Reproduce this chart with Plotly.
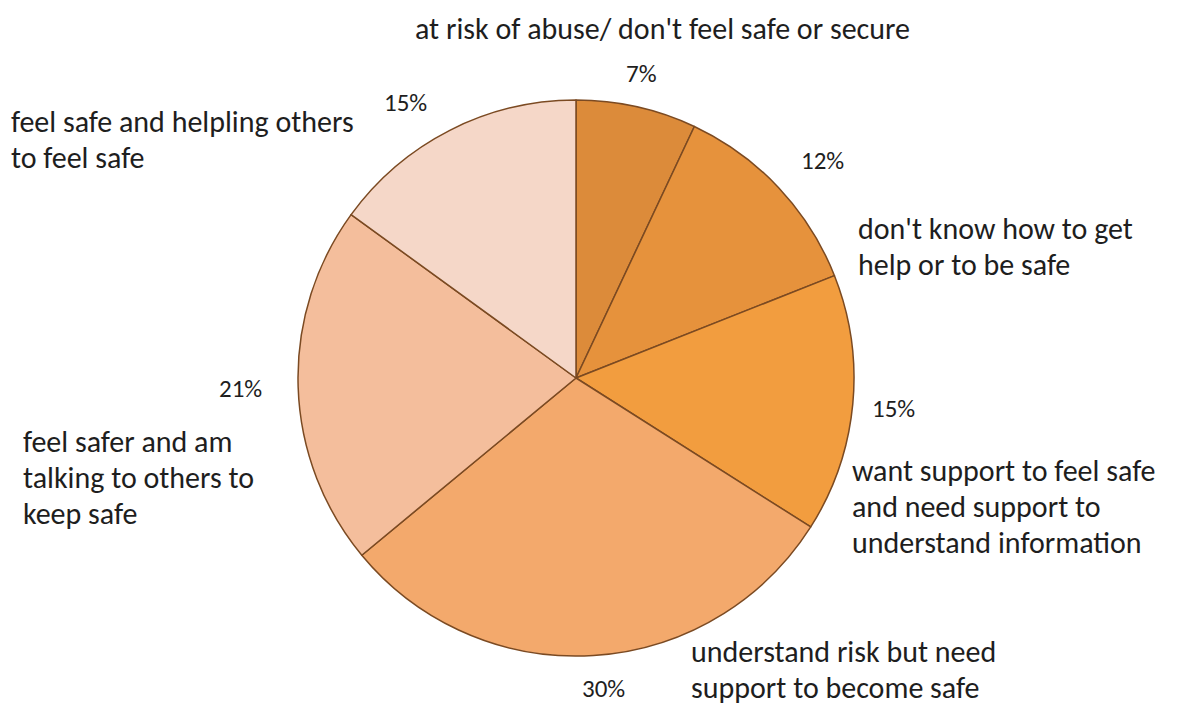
import plotly.graph_objects as go

W, H = 1178, 705

# Slices in clockwise order, starting at 12 o'clock
categories = [
    "at risk of abuse/ don't feel safe or secure",
    "don't know how to get help or to be safe",
    "want support to feel safe and need support to understand information",
    "understand risk but need support to become safe",
    "feel safer and am talking to others to keep safe",
    "feel safe and helpling others to feel safe",
]
shares = [7, 12, 15, 30, 21, 15]
colors = ["#DC8B3A", "#E6923C", "#F29D3F", "#F3A96C", "#F4BE9C", "#F5D7C8"]

# Category text broken into lines, with line-block anchor (px) and alignment
label_lines = [
    ["at risk of abuse/ don't feel safe or secure"],
    ["don't know how to get", "help or to be safe"],
    ["want support to feel safe", "and need support to", "understand information"],
    ["understand risk but need", "support to become safe"],
    ["feel safer and am", "talking to others to", "keep safe"],
    ["feel safe and helpling others", "to feel safe"],
]
label_anchor = [(662, 28, "center"), (856, 228, "left"), (850, 470, "left"),
                (689, 651, "left"), (21, 441, "left"), (9, 121, "left")]
pct_anchor = [(641, 73), (822, 160), (893, 409), (603, 688), (241, 388), (405, 103)]

LINE_GAP = 36
FONT = "Carlito, Lato, 'Liberation Sans', sans-serif"

cx, cy, r = 576, 378, 278

fig = go.Figure(go.Pie(
    values=shares,
    labels=categories,
    sort=False,
    direction="clockwise",
    rotation=0,
    marker=dict(colors=colors, line=dict(color="#7B4A22", width=1.5)),
    textinfo="none",
    hoverinfo="label+percent",
    showlegend=False,
    domain=dict(x=[(cx - r) / W, (cx + r) / W], y=[1 - (cy + r) / H, 1 - (cy - r) / H]),
))


def px(x, y):
    return x / W, 1 - y / H


annotations = []
for lines, (x0, y0, al) in zip(label_lines, label_anchor):
    for i, line in enumerate(lines):
        ax, ay = px(x0, y0 + i * LINE_GAP)
        annotations.append(dict(
            x=ax, y=ay, xref="paper", yref="paper", text=line, showarrow=False,
            xanchor="center" if al == "center" else "left", yanchor="middle",
            font=dict(family=FONT, size=30, color="#1e1e1e"),
        ))
for v, (x0, y0) in zip(shares, pct_anchor):
    ax, ay = px(x0, y0)
    annotations.append(dict(
        x=ax, y=ay, xref="paper", yref="paper", text=f"{v}%", showarrow=False,
        xanchor="center", yanchor="middle",
        font=dict(family=FONT, size=25, color="#1e1e1e"),
    ))

fig.update_layout(
    width=W, height=H,
    margin=dict(l=0, r=0, t=0, b=0),
    paper_bgcolor="white", plot_bgcolor="white",
    annotations=annotations,
)

fig.write_html("out.html")
